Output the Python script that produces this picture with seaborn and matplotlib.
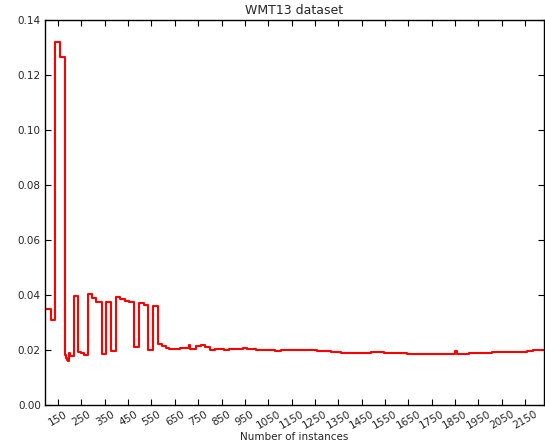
import numpy as np
import pandas as pd
import matplotlib
matplotlib.use('Agg')
import matplotlib.pyplot as plt
import seaborn as sns

# Step breakpoints (number of instances) and the level that starts there
instances = [95, 118, 138, 157, 178, 181, 185, 189, 194, 197, 202, 219, 237, 247,
             262, 277, 297, 314, 336, 357, 376, 397, 416, 437, 453, 474, 496, 517,
             536, 557, 577, 596, 613, 624, 674, 712, 716, 739, 760, 778, 799, 824,
             860, 881, 903, 941, 960, 996, 1081, 1103, 1167, 1203, 1260, 1317, 1360,
             1489, 1546, 1646, 1703, 1850, 1860, 1910, 2010, 2160, 2185, 2231]
error = [0.0348, 0.0309, 0.1321, 0.1264, 0.0205, 0.0182, 0.0170, 0.0163, 0.0160,
         0.0188, 0.0180, 0.0396, 0.0194, 0.0188, 0.0182, 0.0402, 0.0390, 0.0376,
         0.0186, 0.0376, 0.0198, 0.0392, 0.0384, 0.0378, 0.0373, 0.0212, 0.0370,
         0.0364, 0.0200, 0.0361, 0.0221, 0.0215, 0.0208, 0.0204, 0.0208, 0.0220,
         0.0204, 0.0215, 0.0218, 0.0211, 0.0200, 0.0202, 0.0200, 0.0204, 0.0202,
         0.0209, 0.0204, 0.0201, 0.0198, 0.0200, 0.0199, 0.0200, 0.0197, 0.0194,
         0.0190, 0.0192, 0.0188, 0.0185, 0.0184, 0.0197, 0.0185, 0.0190, 0.0191,
         0.0198, 0.0200, 0.0200]

x_ticks = [150, 250, 350, 450, 550, 650, 750, 850, 950, 1050, 1150, 1250,
           1350, 1450, 1550, 1650, 1750, 1850, 1950, 2050, 2150]
y_ticks = [0.00, 0.02, 0.04, 0.06, 0.08, 0.10, 0.12, 0.14]

df = pd.DataFrame({'instances': instances, 'error': error})

sns.set_style('ticks')
plt.rcParams['font.family'] = ['DejaVu Sans']
plt.rcParams['xtick.direction'] = 'in'
plt.rcParams['ytick.direction'] = 'in'

fig = plt.figure(figsize=(5.45, 4.45), dpi=100)
ax = fig.add_axes([45 / 545, 40 / 445, 499 / 545, 385 / 445])

sns.lineplot(data=df, x='instances', y='error', ax=ax, color='red',
             linewidth=1.5, drawstyle='steps-post', estimator=None, sort=False)

ax.set_xlim(94, 2231)
ax.set_ylim(0, 0.14)
ax.set_xticks(x_ticks)
ax.set_xticklabels([str(t) for t in x_ticks], rotation=30, ha='center')
ax.set_yticks(y_ticks)
ax.set_yticklabels(['%.2f' % t for t in y_ticks])
ax.tick_params(axis='both', which='both', labelsize=7.5, length=4, width=0.8,
               top=True, right=True, color='black', pad=3)
for s in ax.spines.values():
    s.set_color('black')
    s.set_linewidth(1.0)

ax.set_title('WMT13 dataset', fontsize=9, pad=4)
ax.set_xlabel('Number of instances', fontsize=7.5, labelpad=1)
ax.set_ylabel('')

fig.savefig('out.png', dpi=100)
